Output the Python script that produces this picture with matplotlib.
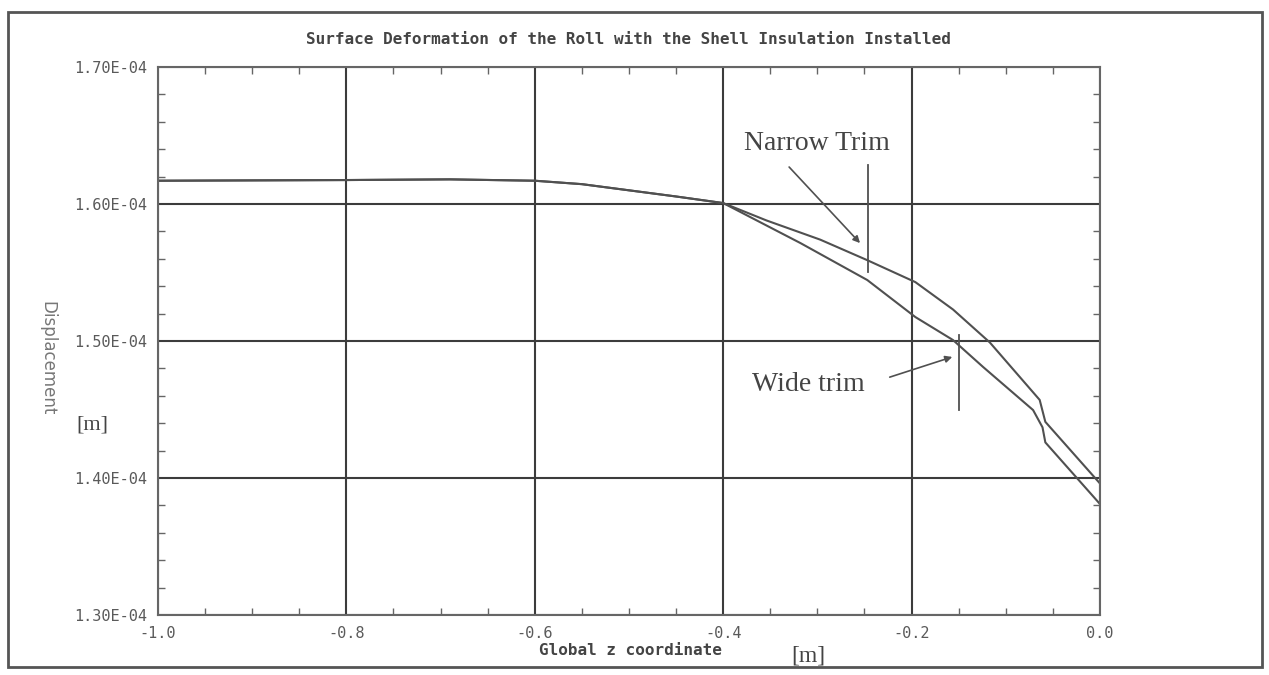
import numpy as np
import matplotlib.pyplot as plt
from matplotlib.patches import Rectangle
from matplotlib.ticker import MultipleLocator

line_col = '#505050'
grid_col = '#3c3c3c'
text_col = '#5a5a5a'

# values (z in m, deformation in units of 1e-4 m)
z_narrow = [-1.0, -0.8, -0.69, -0.6, -0.55, -0.5, -0.45, -0.4, -0.354, -0.297, -0.247, -0.196,
            -0.156, -0.117, -0.064, -0.061, -0.058, 0.0]
d_narrow = [1.617, 1.6175, 1.618, 1.617, 1.6145, 1.610, 1.6055, 1.6007, 1.588, 1.574, 1.559, 1.543,
            1.523, 1.499, 1.457, 1.449, 1.441, 1.396]

z_wide = [-1.0, -0.8, -0.69, -0.6, -0.55, -0.5, -0.45, -0.4, -0.318, -0.247, -0.196, -0.156,
          -0.124, -0.071, -0.061, -0.058, 0.0]
d_wide = [1.617, 1.6175, 1.618, 1.617, 1.6145, 1.610, 1.6055, 1.6007, 1.5715, 1.5445, 1.5175, 1.5007,
          1.481, 1.4496, 1.437, 1.426, 1.381]

x_ticks = [-1.0, -0.8, -0.6, -0.4, -0.2, 0.0]
x_labels = ['-1.0', '-0.8', '-0.6', '-0.4', '-0.2', '0.0']
y_ticks = [1.30, 1.40, 1.50, 1.60, 1.70]
y_labels = ['1.30E-04', '1.40E-04', '1.50E-04', '1.60E-04', '1.70E-04']

fig = plt.figure(figsize=(12.69, 6.75), dpi=100)
ax = fig.add_axes([0.1245, 0.0889, 0.7423, 0.8118])

ax.plot(z_narrow, d_narrow, color=line_col, lw=1.5)
ax.plot(z_wide, d_wide, color=line_col, lw=1.5)

ax.set_xlim(-1.0, 0.0)
ax.set_ylim(1.30, 1.70)
ax.set_xticks(x_ticks)
ax.set_xticklabels(x_labels)
ax.set_yticks(y_ticks)
ax.set_yticklabels(y_labels)
ax.xaxis.set_minor_locator(MultipleLocator(0.05))
ax.yaxis.set_minor_locator(MultipleLocator(0.02))
ax.tick_params(which='both', direction='in', top=True, right=True, colors='#666666')
ax.tick_params(which='major', length=0, pad=8)
ax.tick_params(which='minor', length=5, width=1)
for lab in ax.get_xticklabels() + ax.get_yticklabels():
    lab.set_family('DejaVu Sans Mono')
    lab.set_fontsize(11)
    lab.set_color(text_col)
ax.grid(True, which='major', color=grid_col, lw=1.5)
for sp in ax.spines.values():
    sp.set_color('#666666')
    sp.set_linewidth(1.5)

# trim markers and labels
ax.plot([-0.2463, -0.2463], [1.5504, 1.6285], color=line_col, lw=1.3)
ax.plot([-0.1497, -0.1497], [1.4496, 1.5044], color=line_col, lw=1.3)
ax.annotate('', xy=(-0.2527, 1.570), xytext=(-0.332, 1.6285),
            arrowprops=dict(arrowstyle='-|>', color=line_col, lw=1.2, mutation_scale=10))
ax.annotate('', xy=(-0.154, 1.489), xytext=(-0.226, 1.473),
            arrowprops=dict(arrowstyle='-|>', color=line_col, lw=1.2, mutation_scale=10))
ax.text(-0.300, 1.6445, 'Narrow Trim', family='Liberation Serif', fontsize=20,
        color='#444444', ha='center', va='center')
ax.text(-0.310, 1.4679, 'Wide trim', family='Liberation Serif', fontsize=20,
        color='#444444', ha='center', va='center')

fig.text(0.495, 0.941, 'Surface Deformation of the Roll with the Shell Insulation Installed',
         family='DejaVu Sans Mono', weight='bold', fontsize=11.5, color='#444444',
         ha='center', va='center')
fig.text(0.497, 0.037, 'Global z coordinate', family='DejaVu Sans Mono', weight='bold',
         fontsize=11.5, color='#444444', ha='center', va='center')
fig.text(0.637, 0.028, '[m]', family='Liberation Serif', fontsize=17,
         color='#444444', ha='center', va='center')
fig.text(0.073, 0.37, '[m]', family='Liberation Serif', fontsize=16,
         color='#444444', ha='center', va='center')
fig.text(0.037, 0.47, 'Displacement', family='DejaVu Sans', fontsize=12,
         color='#777777', rotation=-90, ha='center', va='center')

fig.patches.append(Rectangle((0.0063, 0.0119), 0.988, 0.970, transform=fig.transFigure,
                             fill=False, edgecolor='#555555', lw=2))

fig.savefig('out.png', dpi=100, facecolor='white')
